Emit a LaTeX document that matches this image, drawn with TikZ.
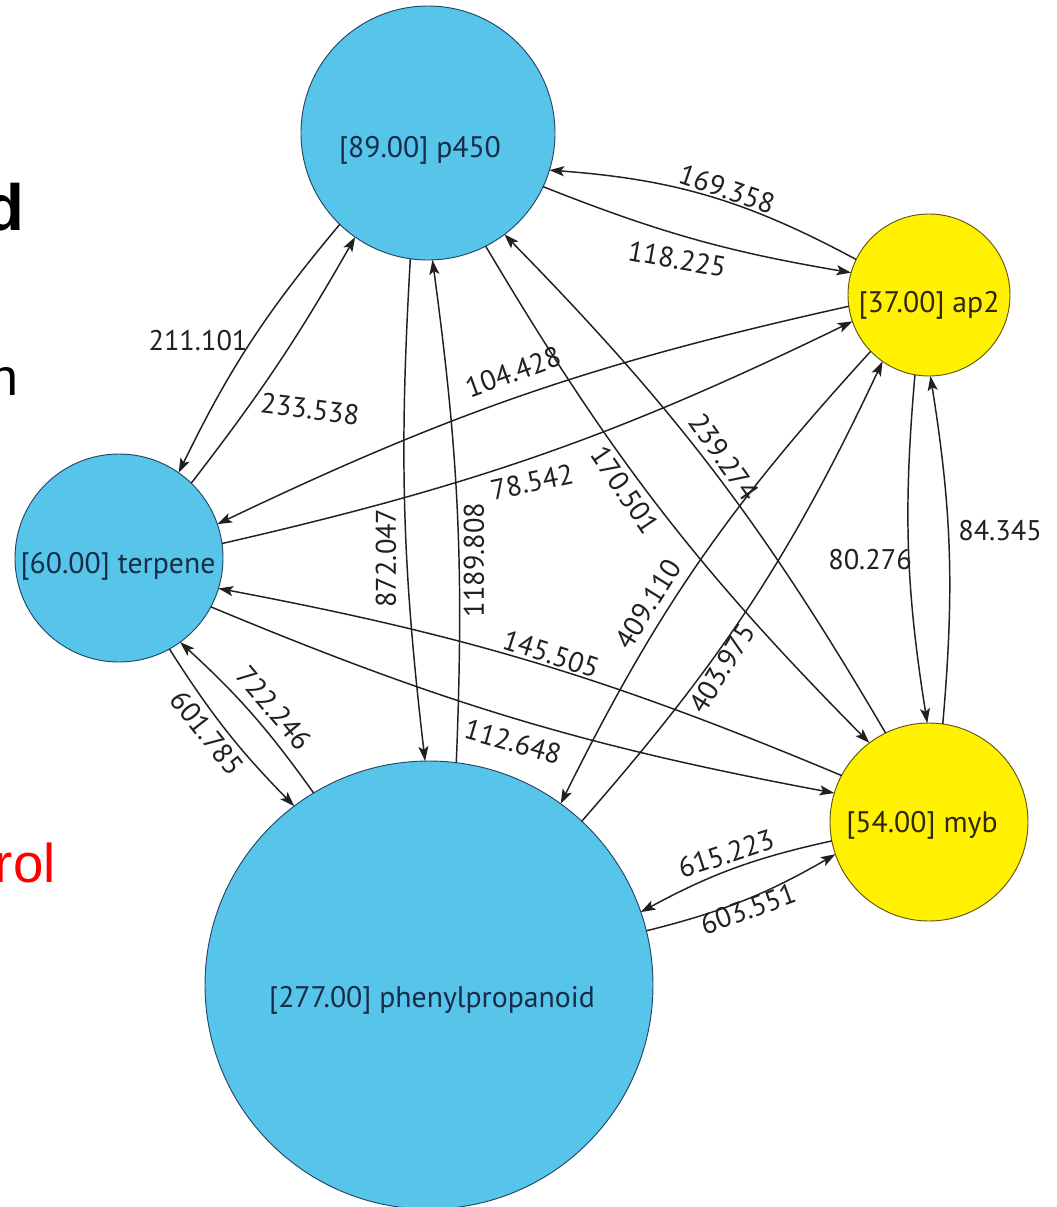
\documentclass[tikz,border=0pt]{standalone}
\usepackage{fontspec}
\setmainfont{PT Sans}
\newfontfamily\slidefont{Liberation Sans}
\usetikzlibrary{arrows.meta}

\definecolor{nodeblue}{RGB}{86,197,233}
\definecolor{blueedge}{RGB}{35,70,100}
\definecolor{nodeyellow}{RGB}{255,241,0}
\definecolor{yellowedge}{RGB}{95,85,20}
\definecolor{bluetext}{RGB}{22,44,72}
\definecolor{yellowtext}{RGB}{45,40,15}
\definecolor{linkcol}{RGB}{35,31,32}

\tikzset{
  genebox/.style={circle, inner sep=0pt, outer sep=0pt, minimum size=#1},
  bluegene/.style={genebox=#1, fill=nodeblue, draw=blueedge, line width=0.7pt},
  yellowgene/.style={genebox=#1, fill=nodeyellow, draw=yellowedge, line width=0.7pt},
  genename/.style={inner sep=0pt, anchor=base, font=\fontsize{22.3}{25}\selectfont},
  link/.style={draw=linkcol, line width=1.1pt,
    -{Stealth[length=11pt, width=7.5pt, inset=2.5pt]}},
  weight/.style={inner sep=0pt, text=linkcol, font=\fontsize{21.3}{24}\selectfont},
}

\begin{document}
\begin{tikzpicture}[x=0.75pt, y=-0.75pt]
  \useasboundingbox (0,0) rectangle (1057,1207);
  \fill[white] (0,0) rectangle (1057,1207);
  \clip (0,0) rectangle (1057,1207);

  % fragments of slide text at the left edge
  \node[anchor=base east, inner sep=0pt, font=\slidefont\bfseries\fontsize{49}{56}\selectfont] (fragd) at (25,230) {d};
  \node[anchor=base east, inner sep=0pt, font=\slidefont\fontsize{39}{46}\selectfont] (fragn) at (19,395) {n};
  \node[anchor=base east, inner sep=0pt, text=red, font=\slidefont\fontsize{41}{48}\selectfont] (fragrol) at (56,882) {rol};

  % gene family nodes
  \node[bluegene=190.5pt]   (P) at (428,133) {};
  \node[yellowgene=121.5pt] (A) at (929,295) {};
  \node[bluegene=156pt]     (T) at (119,558) {};
  \node[yellowgene=148.5pt] (M) at (929,822) {};
  \node[bluegene=336pt]     (H) at (429,985) {};

  \node[genename, text=bluetext]   (Pname) at (420,157)  {[89.00] p450};
  \node[genename, text=yellowtext] (Aname) at (929,312)  {[37.00] ap2};
  \node[genename, text=bluetext]   (Tname) at (118,573)  {[60.00] terpene};
  \node[genename, text=yellowtext] (Mname) at (922,832)  {[54.00] myb};
  \node[genename, text=bluetext]   (Hname) at (432,1007) {[277.00] phenylpropanoid};

  % directed links between families
  \draw[link] (A.154)   to[bend right=12]  (P.-17.5);
  \draw[link] (P.-25)   to[bend right=6]   (A.164);
  \draw[link] (P.-134)  to[bend right=7]   (T.55);
  \draw[link] (T.46)    to[bend right=4]   (P.-125);
  \draw[link] (P.-98)   to[bend right=5]   (H.91);
  \draw[link] (H.83)    to[bend right=5]   (P.-88);
  \draw[link] (P.-63)   to[bend right=7]   (M.127);
  \draw[link] (M.116)   to[bend right=7]   (P.-53);
  \draw[link] (A.188)   to[bend right=6.5] (T.19);
  \draw[link] (T.8)     to[bend right=6.5] (A.199);
  \draw[link] (A.224)   to[bend right=8]   (H.54.5);
  \draw[link] (H.47)    to[bend right=8]   (A.235);
  \draw[link] (A.260)   to[bend right=7]   (M.91);
  \draw[link] (M.82)    to[bend right=7]   (A.271);
  \draw[link] (M.152)   to[bend right=6]   (T.-17);
  \draw[link] (T.-28)   to[bend right=6]   (M.163);
  \draw[link] (H.121.5) to[bend right=6]   (T.-54);
  \draw[link] (T.-61)   to[bend right=6]   (H.127);
  \draw[link] (M.191.5) to[bend right=8]   (H.19);
  \draw[link] (H.14)    to[bend right=8]   (M.199.5);

  % link weights
  \node[weight, rotate=-19] (wAP) at (727,189) {169.358};
  \node[weight, rotate=-10] (wPA) at (677,259) {118.225};
  \node[weight]             (wPT) at (198,341) {211.101};
  \node[weight, rotate=-7]  (wTP) at (310,409) {233.538};
  \node[weight, rotate=90]  (wPH) at (386,558) {872.047};
  \node[weight, rotate=90]  (wHP) at (474,560) {1189.808};
  \node[weight, rotate=-56] (wPM) at (625,490) {170.501};
  \node[weight, rotate=-55] (wMP) at (724,457) {239.274};
  \node[weight, rotate=20]  (wAT) at (513,372) {104.428};
  \node[weight, rotate=12]  (wTA) at (532,482) {78.542};
  \node[weight, rotate=58]  (wAH) at (648,604) {409.110};
  \node[weight, rotate=58]  (wHA) at (722,668) {403.975};
  \node[weight]             (wAM) at (870,560) {80.276};
  \node[weight]             (wMA) at (1000,531) {84.345};
  \node[weight, rotate=-18] (wMT) at (551,654) {145.505};
  \node[weight, rotate=-16] (wTM) at (513,742) {112.648};
  \node[weight, rotate=-50] (wHT) at (274,708) {722.246};
  \node[weight, rotate=-52] (wTH) at (207,733) {601.785};
  \node[weight, rotate=18]  (wMH) at (726,854) {615.223};
  \node[weight, rotate=20]  (wHM) at (748,909) {603.551};
\end{tikzpicture}
\end{document}
